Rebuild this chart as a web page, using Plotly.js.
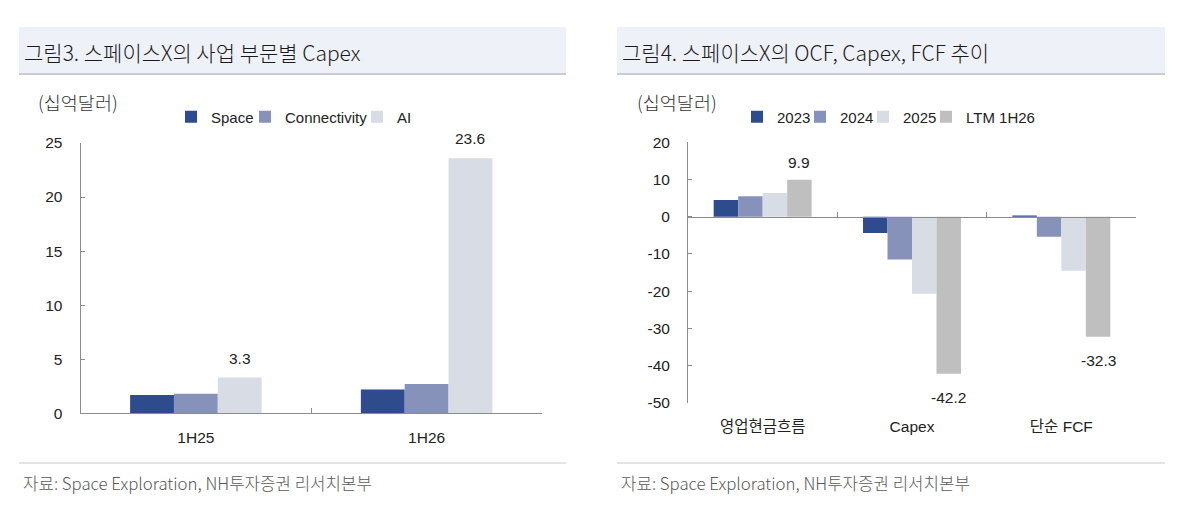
<!DOCTYPE html>
<html><head><meta charset="utf-8">
<script src="https://cdn.plot.ly/plotly-3.0.1.min.js"></script>
<style>html,body{margin:0;padding:0;background:#fff;}#chart{width:1200px;height:519px;}</style>
</head><body><div id="chart"></div>
<script>
// ---- data (left chart) ----
const cats1 = ['1H25', '1H26'];
const space = [1.7, 2.2];
const connectivity = [1.8, 2.7];
const ai = [3.3, 23.6];
const names1 = ['Space', 'Connectivity', 'AI'];
const yTicks1 = [0, 5, 10, 15, 20, 25];

// ---- data (right chart) ----
const cats2 = ['영업현금흐름', 'Capex', '단순 FCF'];
const y2023 = [4.5, -4.4, 0.3];
const y2024 = [5.5, -11.5, -5.4];
const y2025 = [6.4, -20.7, -14.5];
const ltm1H26 = [9.9, -42.2, -32.3];
const names2 = ['2023', '2024', '2025', 'LTM 1H26'];
const yTicks2 = [-50, -40, -30, -20, -10, 0, 10, 20];

// ---- text ----
const title1 = '그림3. 스페이스X의 사업 부문별 Capex';
const title2 = '그림4. 스페이스X의 OCF, Capex, FCF 추이';
const unitLabel = '(십억달러)';
const source = '자료: Space Exploration, NH투자증권 리서치본부';

// ---- style ----
const W = 1200, H = 519;
const LAT = '"Liberation Sans", Arial, "Noto Sans CJK KR", sans-serif';
const KR = '"Noto Sans CJK KR", "Noto Sans", sans-serif';
const colors = ['#2e4b8e', '#8692ba', '#d7dce5', '#bfbfbf'];
const axisColor = '#8c8c8c';
const txt = '#222222';
const px = v => v / W;
const py = v => 1 - v / H;

const dom1x = [px(80.5), px(542)], dom1y = [py(413.3), py(143)];
const dom2x = [px(688), px(1136)], dom2y = [py(402.7), py(142.3)];
const range1 = [0, 25], range2 = [-50, 20];
const w1 = 0.19, w2 = 0.164;

const traces = [];
const s1 = [space, connectivity, ai];
s1.forEach((vals, k) => {
  traces.push({
    type: 'bar', x: cats1, y: vals, name: names1[k], xaxis: 'x', yaxis: 'y',
    width: w1, offset: (k - s1.length / 2) * w1,
    marker: {color: colors[k], line: {width: 0}},
    legend: k === 0 ? 'legend' : 'legend' + (k + 1), hoverinfo: 'skip'
  });
});
const s2 = [y2023, y2024, y2025, ltm1H26];
s2.forEach((vals, k) => {
  traces.push({
    type: 'bar', x: cats2, y: vals, name: names2[k], xaxis: 'x2', yaxis: 'y2',
    width: w2, offset: (k - s2.length / 2) * w2,
    marker: {color: colors[k], line: {width: 0}},
    legend: 'legend' + (k + 4), hoverinfo: 'skip'
  });
});

const tickFont = {family: LAT, size: 15.5, color: txt};
const catFont = {family: LAT, size: 15.5, color: txt};
const baseAxis = {
  showline: true, linecolor: axisColor, linewidth: 1, ticks: 'inside',
  tickcolor: axisColor, tickwidth: 1, showgrid: false, zeroline: false,
  tickfont: tickFont, fixedrange: true
};

// zero position of right chart in paper coords
const zeroPos2 = dom2y[0] + (0 - range2[0]) / (range2[1] - range2[0]) * (dom2y[1] - dom2y[0]);
const plotH2 = (dom2y[1] - dom2y[0]) * H;
const zeroToBottom2 = plotH2 * (0 - range2[0]) / (range2[1] - range2[0]);

const layout = {
  width: W, height: H, margin: {l: 0, r: 0, t: 0, b: 0},
  paper_bgcolor: '#ffffff', plot_bgcolor: 'rgba(0,0,0,0)',
  barmode: 'overlay', showlegend: true,
  xaxis: Object.assign({}, baseAxis, {domain: dom1x, anchor: 'y', type: 'category', range: [-0.5, cats1.length - 0.5],
    tickson: 'boundaries', ticklen: 5, ticklabelstandoff: 10, tickfont: catFont}),
  yaxis: Object.assign({}, baseAxis, {domain: dom1y, anchor: 'x', range: range1, tickvals: yTicks1,
    ticktext: yTicks1.map(String), ticklen: 4, ticklabelstandoff: 14}),
  xaxis2: Object.assign({}, baseAxis, {domain: dom2x, anchor: 'free', position: zeroPos2, type: 'category', range: [-0.5, cats2.length - 0.5],
    tickson: 'boundaries', ticklen: 5, ticklabelstandoff: Math.round(zeroToBottom2 + 10), tickfont: catFont}),
  yaxis2: Object.assign({}, baseAxis, {domain: dom2y, anchor: 'x2', range: range2, tickvals: yTicks2,
    ticktext: yTicks2.map(String), ticklen: 4, ticklabelstandoff: 14}),
  shapes: [], annotations: []
};

// legends: one per trace, placed in a row (x = left edge of entry)
const legX = [171, 245, 357, 737, 800, 863, 926];
legX.forEach((x, i) => {
  const key = i === 0 ? 'legend' : 'legend' + (i + 1);
  layout[key] = {x: px(x), y: py(117), xanchor: 'left', yanchor: 'middle', orientation: 'h',
    font: {family: LAT, size: 15, color: txt}, bgcolor: 'rgba(0,0,0,0)', borderwidth: 0, itemwidth: 30};
});

// title bands, footer lines
[[19, 566], [617, 1165]].forEach(([a, b]) => {
  layout.shapes.push({type: 'rect', xref: 'paper', yref: 'paper', x0: px(a), x1: px(b), y0: py(74), y1: py(27),
    fillcolor: '#eef1f7', line: {width: 0}, layer: 'below'});
  layout.shapes.push({type: 'line', xref: 'paper', yref: 'paper', x0: px(a), x1: px(b), y0: py(74), y1: py(74),
    line: {color: '#c9ccd2', width: 2}});
  layout.shapes.push({type: 'line', xref: 'paper', yref: 'paper', x0: px(a), x1: px(b), y0: py(463), y1: py(463),
    line: {color: '#c8c8c8', width: 1}});
});

const ann = (text, x, y, font, extra) => layout.annotations.push(Object.assign({
  text, x: px(x), y: py(y), xref: 'paper', yref: 'paper', xanchor: 'left', yanchor: 'middle', showarrow: false, font
}, extra || {}));
ann(title1, 22, 52, {family: KR, size: 21, color: '#1a1a1a', weight: 300});
ann(title2, 620, 52, {family: KR, size: 21, color: '#1a1a1a', weight: 300});
ann(unitLabel, 36, 102, {family: KR, size: 18.5, color: '#333', weight: 300});
ann(unitLabel, 635, 102, {family: KR, size: 18.5, color: '#333', weight: 300});
ann(source, 21, 483, {family: KR, size: 16.8, color: '#595959', weight: 300});
ann(source, 619, 483, {family: KR, size: 16.8, color: '#595959', weight: 300});

// data labels (AI series on left, LTM series on right)
ai.forEach((v, i) => {
  layout.annotations.push({text: v.toFixed(1), x: i + (2 - 1.5) * w1 + w1 / 2, y: v, xref: 'x', yref: 'y',
    showarrow: false, yanchor: 'middle', yshift: v >= 0 ? 19.5 : -24, font: tickFont});
});
ltm1H26.forEach((v, i) => {
  layout.annotations.push({text: v.toFixed(1), x: i + (3 - 2) * w2 + w2 / 2, y: v, xref: 'x2', yref: 'y2',
    showarrow: false, yanchor: 'middle', yshift: v >= 0 ? 17.5 : -24, font: tickFont});
});

Plotly.newPlot('chart', traces, layout, {displayModeBar: false, staticPlot: true});
</script></body></html>
